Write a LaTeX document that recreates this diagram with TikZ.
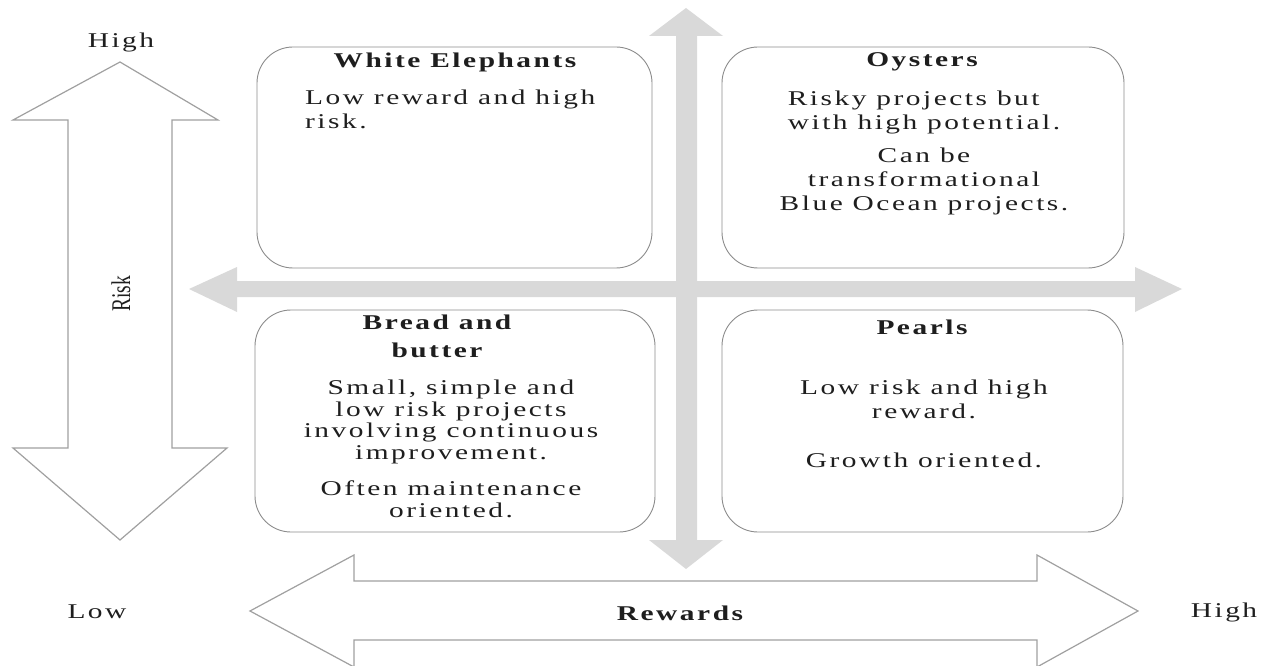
\documentclass[tikz,border=0pt]{standalone}
\usepackage{fontspec}
\setmainfont{Liberation Serif}
\newfontfamily\wfont[FakeStretch=1.4,LetterSpace=12]{Liberation Serif}
\newfontfamily\nfont[FakeStretch=0.72]{Liberation Serif}
\definecolor{axisgray}{HTML}{D9D9D9}
\definecolor{linegray}{HTML}{8C8C8C}
\definecolor{arrowline}{HTML}{A0A0A0}
\definecolor{txt}{HTML}{1E1E1E}
\begin{document}
\begin{tikzpicture}[x=1pt,y=-1pt,
  quad/.style={draw=linegray, line width=0.9pt, rounded corners=36pt, fill=white, inner sep=0pt},
  ttl/.style={font=\wfont\bfseries\fontsize{21}{28}\selectfont, text=txt, inner sep=0pt, align=center},
  body/.style={font=\wfont\fontsize{21}{24}\selectfont, text=txt, inner sep=0pt},
  lab/.style={font=\wfont\fontsize{21}{24}\selectfont, text=txt, inner sep=0pt},
  gaxis/.style={fill=axisgray, draw=none},
  bigarrow/.style={draw=arrowline, line width=1.2pt, fill=white, line join=miter}
]
\useasboundingbox (0,0) rectangle (1270,666);

% grey axes
\path[gaxis] (686,8) -- (723,36) -- (697,36) -- (697,540) -- (723,540) -- (686,569)
  -- (649,540) -- (676,540) -- (676,36) -- (649,36) -- cycle;
\path[gaxis] (189,289) -- (237,267) -- (237,281) -- (1135,281) -- (1135,267) -- (1182,289)
  -- (1135,312) -- (1135,297) -- (237,297) -- (237,312) -- cycle;

% quadrant boxes
\node[quad, minimum width=395pt, minimum height=221pt] (we) at (454.5,157.5) {};
\node[quad, minimum width=402pt, minimum height=221pt] (oy) at (923,157.5) {};
\node[quad, minimum width=400pt, minimum height=222pt] (bb) at (455,421) {};
\node[quad, minimum width=401pt, minimum height=222pt] (pe) at (922.5,421) {};

% White Elephants
\node[ttl] (weT) at (455,62) {White Elephants};
\node[body, anchor=north west, align=left] (weB) at (305,90) {Low reward and high\\risk.};

% Oysters
\node[ttl] (oyT) at (922,62) {Oysters};
\node[body, anchor=north, align=left] (oyB1) at (924,91) {Risky projects but\\with high potential.};
\node[body, anchor=north, align=center] (oyB2) at (924,148) {Can be\\transformational\\Blue Ocean projects.};

% Bread and butter
\node[ttl, anchor=north] (bbT) at (437,315) {Bread and\\butter};
\node[body, anchor=north, align=center, font=\wfont\fontsize{21}{21.5}\selectfont] (bbB1) at (451,380)
  {Small, simple and\\low risk projects\\involving continuous\\improvement.};
\node[body, anchor=north, align=center, font=\wfont\fontsize{21}{21.5}\selectfont] (bbB2) at (451,481)
  {Often maintenance\\oriented.};

% Pearls
\node[ttl] (peT) at (922,327) {Pearls};
\node[body, anchor=north, align=center] (peB1) at (924,380) {Low risk and high\\reward.};
\node[body, anchor=north, align=center] (peB2) at (924,453) {Growth oriented.};

% Risk arrow
\path[bigarrow] (120,62) -- (218,120) -- (172,120) -- (172,448) -- (227,448) -- (120,540)
  -- (13,448) -- (68,448) -- (68,120) -- (13,120) -- cycle;
\node[font=\nfont\fontsize{27}{30}\selectfont, text=txt, rotate=90, inner sep=0pt] (risk) at (121,294) {Risk};
\node[lab] (hiL) at (121,42) {High};

% Rewards arrow
\path[bigarrow] (250,611) -- (354,555) -- (354,581) -- (1037,581) -- (1037,555) -- (1138,611)
  -- (1037,667) -- (1037,640) -- (354,640) -- (354,667) -- cycle;
\node[lab, font=\wfont\bfseries\fontsize{21}{24}\selectfont] (rew) at (680,613) {Rewards};
\node[lab] (lowL) at (97,612) {Low};
\node[lab] (hiR) at (1224,612) {High};
\end{tikzpicture}
\end{document}
